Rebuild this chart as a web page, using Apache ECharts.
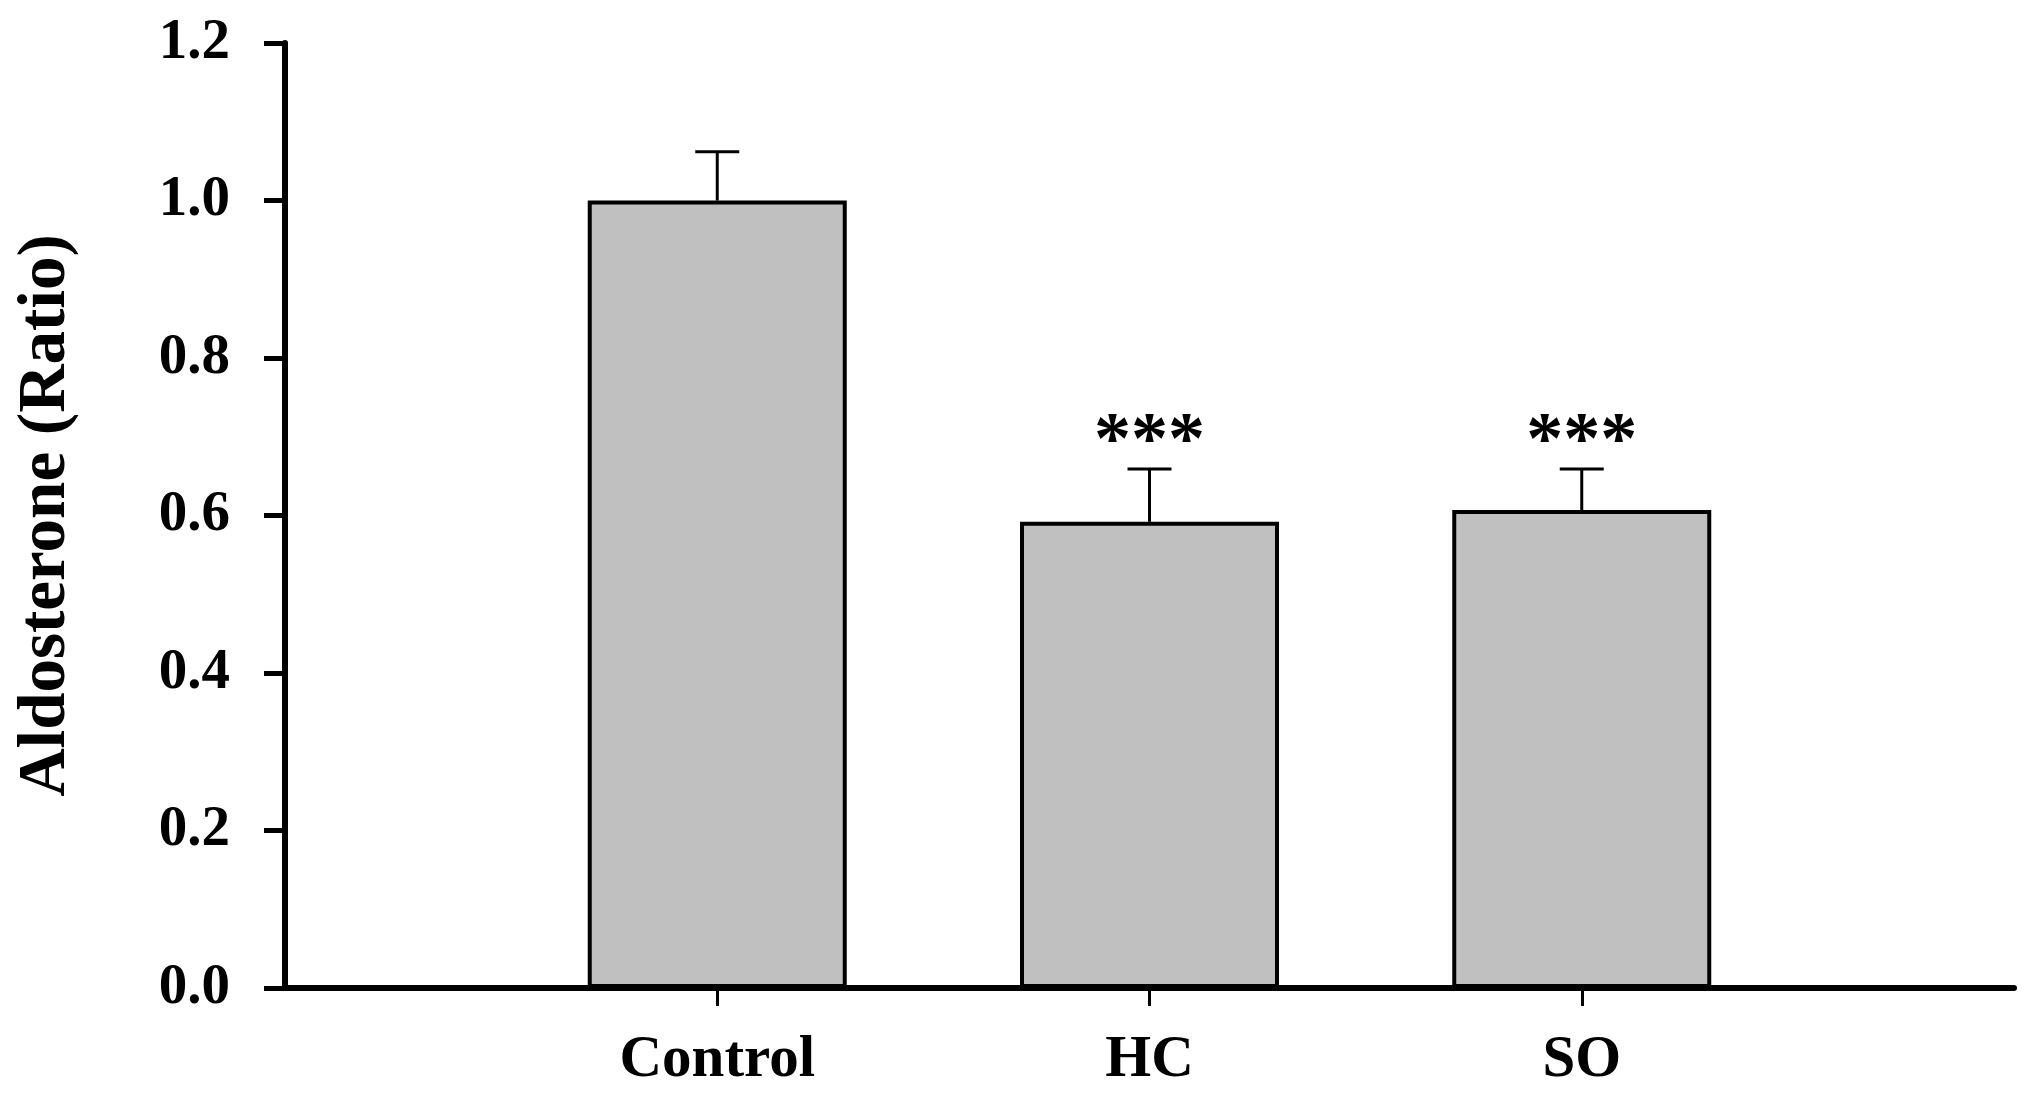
<!DOCTYPE html>
<html>
<head>
<meta charset="utf-8">
<script src="https://cdn.jsdelivr.net/npm/echarts@6/dist/echarts.min.js"></script>
<style>
html,body{margin:0;padding:0;background:#fff;}
#chart{width:2031px;height:1095px;}
</style>
</head>
<body>
<div id="chart"></div>
<script>
const categories = ['', 'Control', 'HC', 'SO', ''];
const groups = ['Control', 'HC', 'SO'];
const means = [1.0, 0.592, 0.607];
const errors = [0.062, 0.067, 0.052];
const significance = ['', '***', '***'];
const yTicks = [0.0, 0.2, 0.4, 0.6, 0.8, 1.0, 1.2];

const serif = '"Liberation Serif", "Times New Roman", serif';

const barData = groups.map((g, i) => [categories.indexOf(g), means[i]]);
const errData = groups.map((g, i) => [categories.indexOf(g), means[i], errors[i], significance[i]]);

const chart = echarts.init(document.getElementById('chart'));
chart.setOption({
  backgroundColor: '#ffffff',
  animation: false,
  grid: { left: 285, right: 17, top: 43, bottom: 107, containLabel: false, outerBoundsMode: 'none' },
  xAxis: {
    type: 'category',
    data: categories,
    boundaryGap: false,
    axisLine: { lineStyle: { color: '#000', width: 6 } },
    axisTick: {
      show: true, length: 18, inside: false,
      interval: (idx) => idx > 0 && idx < categories.length - 1,
      lineStyle: { color: '#000', width: 3 }
    },
    axisLabel: {
      interval: 0, margin: 43,
      fontFamily: serif, fontWeight: 'bold', fontSize: 59, color: '#000'
    },
    splitLine: { show: false }
  },
  yAxis: {
    type: 'value',
    min: yTicks[0], max: yTicks[yTicks.length - 1], interval: 0.2,
    name: 'Aldosterone (Ratio)',
    nameLocation: 'middle',
    nameGap: 205,
    nameRotate: 90,
    nameTextStyle: { fontFamily: serif, fontWeight: 'bold', fontSize: 67, color: '#000' },
    axisLine: { show: true, lineStyle: { color: '#000', width: 6 } },
    axisTick: { show: true, length: 21, inside: false, lineStyle: { color: '#000', width: 5 } },
    axisLabel: {
      margin: 55,
      formatter: (v) => v.toFixed(1),
      fontFamily: serif, fontWeight: 'bold', fontSize: 57, color: '#000'
    },
    splitLine: { show: false }
  },
  series: [
    {
      type: 'bar',
      data: barData,
      barWidth: 259,
      itemStyle: { color: '#c0c0c0', borderColor: '#000', borderWidth: 4 },
      z: 2
    },
    {
      type: 'custom',
      data: errData,
      z: 3,
      renderItem: function (params, api) {
        const x = api.value(0);
        const m = api.value(1);
        const e = api.value(2);
        const sig = errData[params.dataIndex][3];
        const p0 = api.coord([x, m]);
        const p1 = api.coord([x, m + e]);
        const cap = 22;
        const children = [
          { type: 'line', shape: { x1: p0[0], y1: p0[1], x2: p1[0], y2: p1[1] }, style: { stroke: '#000', lineWidth: 3 } },
          { type: 'line', shape: { x1: p1[0] - cap, y1: p1[1], x2: p1[0] + cap, y2: p1[1] }, style: { stroke: '#000', lineWidth: 3 } }
        ];
        if (sig) {
          children.push({
            type: 'text',
            x: p1[0], y: p1[1] - 25,
            style: {
              text: sig, fontFamily: serif, fontWeight: 'bold', fontSize: 74,
              fill: '#000', align: 'center', verticalAlign: 'middle'
            }
          });
        }
        return { type: 'group', children: children };
      }
    }
  ]
});
</script>
</body>
</html>
